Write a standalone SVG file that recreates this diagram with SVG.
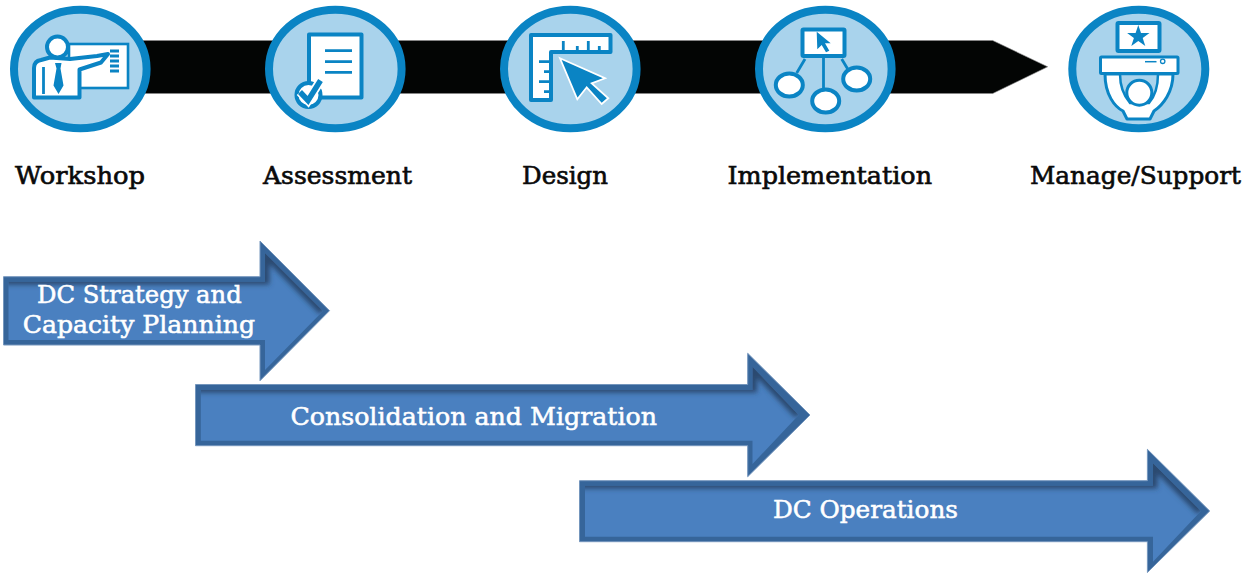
<svg xmlns="http://www.w3.org/2000/svg" width="1252" height="573" viewBox="0 0 1252 573">
<style>
.ring{fill:#a9d3ec;stroke:#0a84c4;stroke-width:8}
.w{fill:#fff;stroke:#0a84c4;stroke-width:2.6;stroke-linejoin:miter}
.wn{fill:#fff;stroke:#0a84c4;stroke-width:4;stroke-linejoin:round}
.b{fill:#0a84c4;stroke:none}
.l{fill:none;stroke:#0a84c4;stroke-width:2.8}
.cur{fill:#0a84c4;stroke:#fff;stroke-width:1.8;stroke-linejoin:miter}
.lab{font-family:"DejaVu Serif","Liberation Serif",serif;font-size:25px;fill:#0a0a0a;stroke:#0a0a0a;stroke-width:.65}
.at{font-family:"DejaVu Serif","Liberation Serif",serif;font-size:25px;fill:#fff;stroke:#fff;stroke-width:.55}
.out{fill:#36659a;stroke:#7496bd;stroke-width:1}
.in{fill:#4a80c0}
.sh{fill:none;stroke:#29496f;stroke-width:9;filter:url(#blur)}
</style>
<defs>
<filter id="blur" x="-5%" y="-30%" width="110%" height="160%"><feGaussianBlur stdDeviation="2.6"/></filter>
<clipPath id="c1"><polygon points="8.500,281.700 265,281.700 265,253 323,311 265,370 265,340 8.500,340"/></clipPath>
<clipPath id="c2"><polygon points="200.800,390 752.500,390 752.500,366.700 798.700,415 752.500,464 752.500,440.700 200.800,440.700"/></clipPath>
<clipPath id="c3"><polygon points="585,485.700 1153,485.700 1153,463.300 1201,511 1153,561.700 1153,536.700 585,536.700"/></clipPath>
</defs>

<g id="connectors">
<polygon id="timeline-bar" points="140,40.500 992.700,40.500 1047.700,66.800 992.700,93.500 140,93.500" fill="#030504" stroke="#8a8a8a" stroke-width=".6"/>
</g>

<g id="node-workshop">
<ellipse class="ring" cx="80.300" cy="69" rx="66.300" ry="59.300"/>
<rect class="w" x="69" y="44" width="59" height="44"/>
<path class="l" d="M110,51h9M110,56h9M110,61h9M110,66h9M110,71h9"/>
<path class="wn" d="M34,97.500V68Q34,61 41,60L50,57.500L70,59L97,56L108,54L101,62.500L79.500,69.500V97.500Z"/>
<circle class="wn" cx="57.500" cy="47" r="10.500"/>
<path class="b" d="M55,63h6.500l-1,5.500l3,17l-5,8.500l-5,-8.500l3,-17z"/>
<path class="l" d="M43.500,67V94"/>
</g>

<g id="node-assessment">
<ellipse class="ring" cx="335.300" cy="69" rx="66.300" ry="59.300"/>
<rect class="wn" x="309" y="34.500" width="52.500" height="63"/>
<path class="l" d="M325,50.700h27M325,61.700h27M325,72.300h27"/>
<circle cx="308.500" cy="95" r="12" fill="#fff" stroke="#0a84c4" stroke-width="4"/>
<path d="M300,92l8,8.500l12.500,-20" fill="none" stroke="#fff" stroke-width="9"/>
<path d="M300,92l8,8.500l12.500,-20" fill="none" stroke="#0a84c4" stroke-width="5.500"/>
</g>

<g id="node-design">
<ellipse class="ring" cx="570.300" cy="69" rx="66.300" ry="59.300"/>
<path class="wn" d="M531,35H610.500V52H551V100H531Z"/>
<path class="l" d="M563.300,41V52M577.300,46V52M588.300,41V52M599.300,46V52M539,61.700H551M544,71.700H551M539,81.700H551M544,91.700H551"/>
<polygon class="cur" points="560,58.300 605,78.300 591.700,83.300 608.300,98.300 601.700,104 586.700,87.300 577.300,99.300"/>
</g>

<g id="node-implementation">
<ellipse class="ring" cx="825.300" cy="69" rx="66.300" ry="59.300"/>
<path class="l" d="M823.500,57V88M805,59L796.700,73M841.700,59L848.300,70"/>
<rect class="wn" x="802.500" y="29.500" width="42" height="26.500" rx="1"/>
<polygon class="b" points="816.700,31.700 830.700,43.300 825,43.300 829.300,50.700 826,52.300 821.700,45 817.300,49.300"/>
<ellipse class="wn" cx="789.300" cy="85" rx="13.500" ry="11.500"/>
<ellipse class="wn" cx="825.700" cy="101" rx="13.500" ry="11.500"/>
<ellipse class="wn" cx="856.700" cy="79" rx="13.500" ry="11.500"/>
</g>

<g id="node-manage">
<ellipse class="ring" cx="1138.800" cy="69" rx="66.500" ry="59.300"/>
<rect class="wn" x="1117.500" y="23" width="42" height="28" rx="1"/>
<polygon class="b" points="1138.300,25 1141,33 1149.500,33 1142.700,38 1145.300,46 1138.300,41 1131.300,46 1133.900,38 1127.100,33 1135.600,33"/>
<path class="wn" d="M1105,74C1105,95 1115,107 1123,111L1127,119H1150L1154,111C1163,105 1173,92 1173,74Z" style="stroke-width:3"/>
<path d="M1120,74C1120,86 1124,96 1130,103H1149C1155,96 1158,86 1158,74Z" fill="#a9d3ec" stroke="#0a84c4" stroke-width="2.500"/>
<circle class="wn" cx="1139.300" cy="92.700" r="12.500" style="stroke-width:3"/>
<rect class="wn" x="1100.500" y="57" width="77.500" height="16.500" rx="1" style="stroke-width:3"/>
<path class="l" d="M1145,61.700h11.500" style="stroke-width:1.500"/>
<circle cx="1162.700" cy="61.300" r="2.200" fill="#fff" stroke="#0a84c4" stroke-width="1.300"/>
</g>

<g id="labels">
<text class="lab" x="15" y="183.500" textLength="130" lengthAdjust="spacingAndGlyphs">Workshop</text>
<text class="lab" x="263" y="183.500" textLength="149" lengthAdjust="spacingAndGlyphs">Assessment</text>
<text class="lab" x="522" y="183.500" textLength="86" lengthAdjust="spacingAndGlyphs">Design</text>
<text class="lab" x="727.500" y="183.500" textLength="204.500" lengthAdjust="spacingAndGlyphs">Implementation</text>
<text class="lab" x="1030" y="183.500" textLength="211" lengthAdjust="spacingAndGlyphs">Manage/Support</text>
</g>

<g id="node-dc-strategy">
<polygon class="out" points="3.500,276.700 260,276.700 260,241 329.500,310.700 260,380.700 260,345 3.500,345"/>
<polygon class="in" points="8.500,281.700 265,281.700 265,253 323,311 265,370 265,340 8.500,340"/>
<g clip-path="url(#c1)"><path class="sh" d="M0,280H265V253L323,311"/></g>
<text class="at" x="37" y="303.300" textLength="204.700" lengthAdjust="spacingAndGlyphs">DC Strategy and</text>
<text class="at" x="22.700" y="332.700" textLength="232.300" lengthAdjust="spacingAndGlyphs">Capacity Planning</text>
</g>

<g id="node-consolidation">
<polygon class="out" points="195.500,384.500 747.700,384.500 747.700,353.300 810,415 747.700,476.700 747.700,445.700 195.500,445.700"/>
<polygon class="in" points="200.800,390 752.500,390 752.500,366.700 798.700,415 752.500,464 752.500,440.700 200.800,440.700"/>
<g clip-path="url(#c2)"><path class="sh" d="M190,388H752.500V366.700L798.700,415"/></g>
<text class="at" x="290.400" y="425" textLength="366.600" lengthAdjust="spacingAndGlyphs">Consolidation and Migration</text>
</g>

<g id="node-dc-operations">
<polygon class="out" points="579.500,480.700 1147.400,480.700 1147.400,449.300 1209.700,511 1147.400,572.500 1147.400,541.700 579.500,541.700"/>
<polygon class="in" points="585,485.700 1153,485.700 1153,463.300 1201,511 1153,561.700 1153,536.700 585,536.700"/>
<g clip-path="url(#c3)"><path class="sh" d="M575,484H1153V463.300L1201,511"/></g>
<text class="at" x="772.900" y="518.300" textLength="185.100" lengthAdjust="spacingAndGlyphs">DC Operations</text>
</g>
</svg>
